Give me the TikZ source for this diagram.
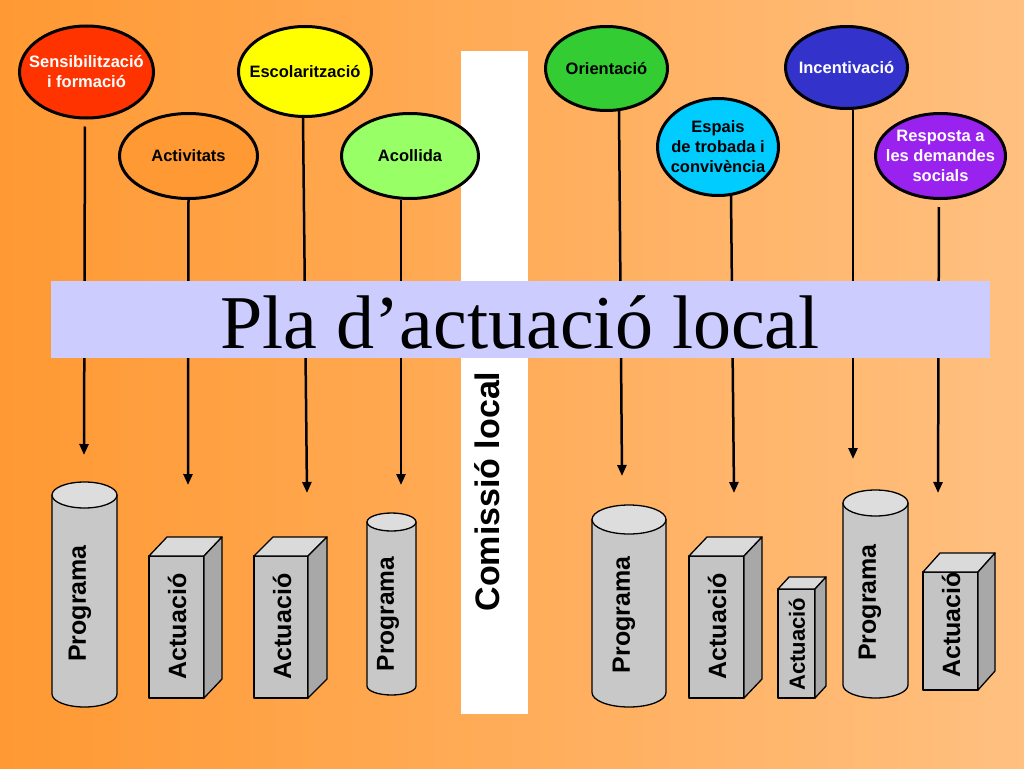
\documentclass[tikz,border=0pt]{standalone}
\usepackage{fontspec}
\setmainfont{Liberation Serif}
\setsansfont{Liberation Sans}
\usetikzlibrary{shapes.geometric,arrows.meta}
\definecolor{bgL}{HTML}{FF9933}
\definecolor{bgR}{HTML}{FFC080}
\definecolor{bandcol}{HTML}{CCCCFF}
\definecolor{cRed}{HTML}{FF3300}
\definecolor{cOrange}{HTML}{FF9933}
\definecolor{cYellow}{HTML}{FFFF00}
\definecolor{cLGreen}{HTML}{99FF66}
\definecolor{cGreen}{HTML}{33CC33}
\definecolor{cCyan}{HTML}{00CCFF}
\definecolor{cBlue}{HTML}{3333CC}
\definecolor{cPurple}{HTML}{9922EE}
\definecolor{cylbody}{HTML}{C8C8C8}
\definecolor{cyltop}{HTML}{DDDDDD}
\definecolor{boxfront}{HTML}{C4C4C4}
\definecolor{boxtop}{HTML}{DADADA}
\definecolor{boxside}{HTML}{A8A8A8}
% cylinder: cx, r, ytop, ybottom, ry
\newcommand\mycyl[5]{%
  \draw[shp,fill=cylbody] (#1-#2,#3) -- (#1-#2,#4)
    arc[start angle=180,end angle=0,x radius=#2,y radius=#5] -- (#1+#2,#3) -- cycle;
  \draw[shp,fill=cyltop] (#1,#3) ellipse[x radius=#2,y radius=#5];
}
% box: x1, x2, ytop, ybottom, dx, dy
\newcommand\mybox[6]{%
  \draw[shp,fill=boxfront] (#1,#3) rectangle (#2,#4);
  \draw[shp,fill=boxtop] (#1,#3) -- (#1+#5,#3-#6) -- (#2+#5,#3-#6) -- (#2,#3) -- cycle;
  \draw[shp,fill=boxside] (#2,#3) -- (#2+#5,#3-#6) -- (#2+#5,#4-#6) -- (#2,#4) -- cycle;
}
\begin{document}
\begin{tikzpicture}[x=1pt,y=-1pt,
  ell/.style={ellipse,draw=black,line width=3pt,inner sep=0pt},
  etext/.style={font=\sffamily\bfseries\fontsize{16.5}{20}\selectfont,align=center,inner sep=0pt},
  conn/.style={line width=2.5pt,-{Triangle[length=11pt,width=9pt]}},
  shp/.style={draw=black,line width=1.3pt,line join=round},
  stext/.style={font=\sffamily\bfseries\fontsize{25}{30}\selectfont,rotate=90,inner sep=0pt}]

\useasboundingbox (0,0) rectangle (1024,768);
\shade[left color=bgL,right color=bgR] (0,0) rectangle (1024,768);

% white bar
\node[fill=white,minimum width=67pt,minimum height=663pt,inner sep=0pt,anchor=north west] (bar) at (461,51) {};

% ellipses
\node[ell,fill=cRed,minimum width=134pt,minimum height=92pt] (e1) at (86.5,72) {};
\node[ell,fill=cOrange,minimum width=138pt,minimum height=85pt] (e2) at (188.5,156) {};
\node[ell,fill=cYellow,minimum width=133pt,minimum height=90pt] (e3) at (305,71.5) {};
\node[ell,fill=cLGreen,minimum width=137pt,minimum height=85pt] (e4) at (410,156) {};
\node[ell,fill=cGreen,minimum width=122pt,minimum height=84pt] (e5) at (606.5,68.5) {};
\node[ell,fill=cCyan,minimum width=121pt,minimum height=97pt] (e6) at (718,147) {};
\node[ell,fill=cBlue,minimum width=122pt,minimum height=82pt] (e7) at (846.5,67.5) {};
\node[ell,fill=cPurple,minimum width=130pt,minimum height=85pt] (e8) at (940.5,156) {};

\node[etext,text=white] (l1) at (e1) {Sensibilització\\i formació};
\node[etext] (l2) at (e2) {Activitats};
\node[etext] (l3) at (e3) {Escolarització};
\node[etext] (l4) at (e4) {Acollida};
\node[etext] (l5) at (e5) {Orientació};
\node[etext] (l6) at (e6) {Espais\\de trobada i\\convivència};
\node[etext,text=white] (l7) at (e7) {Incentivació};
\node[etext,text=white] (l8) at (e8) {Resposta a\\les demandes\\socials};

% arrow tips
\coordinate (t1) at (84,455);
\coordinate (t2) at (188,485);
\coordinate (t3) at (307,493);
\coordinate (t4) at (401,485);
\coordinate (t5) at (622,476);
\coordinate (t6) at (734,493);
\coordinate (t7) at (853,459);
\coordinate (t8) at (938,493);

\draw[conn,shorten <=7pt] ([xshift=-1.5pt]e1.south) -- (t1);
\draw[conn] (e2.south) -- (t2);
\draw[conn] ([xshift=-2pt]e3.south) -- (t3);
\draw[conn] ([xshift=-9pt]e4.south) -- (t4);
\draw[conn] ([xshift=12.5pt,yshift=1pt]e5.south) -- (t5);
\draw[conn] ([xshift=13pt,yshift=2pt]e6.south) -- (t6);
\draw[conn] ([xshift=6.5pt]e7.south) -- (t7);
\draw[conn,shorten <=7pt] ([xshift=-1.5pt]e8.south) -- (t8);

% band
\node[fill=bandcol,minimum width=939pt,minimum height=77pt,inner sep=0pt] (band) at (520.5,319.5) {};
\node[font=\fontsize{76}{80}\selectfont,anchor=base,inner sep=0pt] (title) at (520,348) {Pla d’actuació local};

% commission text
\node[font=\sffamily\bfseries\fontsize{34}{40}\selectfont,rotate=90,inner sep=0pt] (com) at (487,491.5) {Comissió local};

% shapes
\mycyl{84.5}{32.5}{495}{694}{13}
\mybox{149}{204}{556}{698}{18}{19}
\mybox{254}{308}{556}{698}{19}{19}
\mycyl{391.5}{24.5}{522}{686}{9}
\mycyl{629}{37}{519.5}{692.5}{14.5}
\mybox{689}{744}{556}{698}{18}{19}
\mybox{778}{815}{589}{698}{11}{12}
\mycyl{875.5}{32.5}{503}{685}{13}
\mybox{923}{978}{572}{690}{17}{19}

\node[stext] (p1) at (80,603.5) {Programa};
\node[stext] (a1) at (177,626.5) {Actuació};
\node[stext] (a2) at (282,626.5) {Actuació};
\node[stext,font=\sffamily\bfseries\fontsize{24.5}{30}\selectfont] (p2) at (388,614) {Programa};
\node[stext] (p3) at (624,615) {Programa};
\node[stext] (a3) at (717,626.5) {Actuació};
\node[stext,font=\sffamily\bfseries\fontsize{22}{26}\selectfont] (a4) at (797,644) {Actuació};
\node[stext] (p4) at (870,602.5) {Programa};
\node[stext] (a5) at (951,625) {Actuació};
\end{tikzpicture}
\end{document}
